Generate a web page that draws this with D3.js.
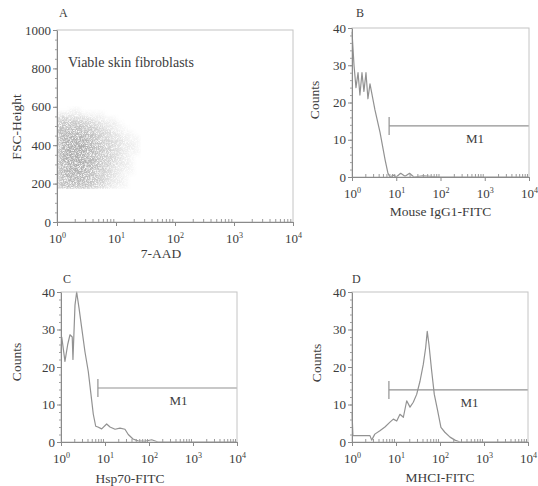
<!DOCTYPE html>
<html>
<head>
<meta charset="utf-8">
<script src="https://cdn.jsdelivr.net/npm/d3@7"></script>
<style>
  body { margin: 0; background: #fff; }
  svg text { font-family: "Liberation Serif", "DejaVu Serif", serif; fill: #3c3c3c; }
</style>
</head>
<body>
<script>
'use strict';

// tick values shared by the panels
const decadeTicks = [1, 10, 100, 1000, 10000];
const fscTicks = [0, 200, 400, 600, 800, 1000];
const countTicks = [0, 10, 20, 30, 40];

// panel A: 7-AAD vs FSC density
// column edges are 0.1 decade apart, rows are 25 FSC units tall (top row first)
const aadEdges = [1, 1.26, 1.58, 2.0, 2.51, 3.16, 3.98, 5.01, 6.31, 7.94, 10, 12.6, 15.8, 20.0, 25.1, 31.6];
const fscRows = [575, 550, 525, 500, 475, 450, 425, 400, 375, 350, 325, 300, 275, 250, 225, 200, 175];
const aadDensity = [
  [0, 0, 1, 1, 0, 0, 0, 0, 0, 0, 0, 0, 0, 0, 0],
  [2, 2, 2, 2, 1, 1, 1, 1, 0, 0, 0, 0, 0, 0, 0],
  [5, 5, 4, 4, 4, 3, 2, 2, 1, 1, 0, 0, 0, 0, 0],
  [6, 6, 6, 6, 5, 5, 4, 3, 2, 2, 1, 0, 0, 0, 0],
  [7, 7, 7, 7, 6, 6, 5, 4, 3, 2, 1, 1, 0, 0, 0],
  [7, 8, 8, 8, 7, 7, 6, 5, 4, 3, 2, 1, 1, 0, 0],
  [7, 8, 9, 9, 8, 7, 6, 5, 4, 3, 3, 2, 1, 1, 0],
  [7, 9, 9, 9, 9, 8, 7, 6, 5, 4, 3, 2, 2, 1, 0],
  [7, 9, 9, 9, 9, 8, 7, 6, 5, 4, 3, 2, 2, 1, 0],
  [7, 9, 9, 9, 9, 8, 7, 6, 5, 4, 3, 2, 1, 1, 0],
  [7, 9, 9, 9, 9, 8, 7, 6, 5, 4, 3, 2, 1, 0, 0],
  [7, 9, 9, 9, 9, 8, 7, 6, 5, 4, 3, 2, 1, 0, 0],
  [7, 9, 9, 9, 9, 8, 7, 6, 5, 3, 2, 2, 1, 0, 0],
  [7, 8, 9, 9, 8, 7, 6, 5, 4, 3, 2, 1, 1, 0, 0],
  [7, 8, 8, 8, 8, 7, 6, 5, 4, 3, 2, 1, 0, 0, 0],
  [6, 7, 8, 8, 7, 7, 6, 5, 3, 2, 2, 1, 0, 0, 0],
  [6, 7, 7, 7, 7, 6, 5, 4, 3, 2, 1, 1, 0, 0, 0]
];

// panel B: Mouse IgG1-FITC histogram
const iggFitc = [1, 1.11, 1.23, 1.37, 1.51, 1.68, 1.86, 2.07, 2.29, 2.55, 3.3, 4.3, 5.6, 6.5, 7.2, 8.9, 10, 12.6, 15.8, 20, 25, 40, 100, 10000];
const iggCounts = [39, 30, 24, 28, 22, 28, 23, 28, 21, 25, 18, 12, 4.6, 1, 0, 0.5, 0, 1, 0.2, 1, 0, 0.3, 0, 0];

// panel C: Hsp70-FITC histogram
const hspFitc = [1, 1.04, 1.23, 1.42, 1.6, 1.8, 1.87, 2.08, 2.27, 2.57, 2.95, 3.51, 4.17, 4.8, 5.42, 6.15, 6.9, 8.4, 10.9, 13, 16.9, 21.9, 28.4, 33.8, 43.3, 56, 81, 115, 160, 10000];
const hspCounts = [24, 28, 21.5, 26, 28.6, 28, 22, 36.5, 40, 35.7, 30.5, 24, 18.8, 12.7, 7.4, 4.2, 4, 3.5, 4.8, 4, 3.4, 3.7, 3.4, 2, 0.8, 0.3, 0.2, 0.6, 0, 0];

// panel D: MHCI-FITC histogram
const mhcFitc = [1, 1.05, 2.56, 2.8, 3.3, 4.3, 5.6, 7.3, 8.7, 10.4, 12.3, 14.7, 17.5, 20.8, 24.7, 29.5, 35.1, 41.7, 47.3, 51.3, 56.1, 64.6, 74.2, 88.6, 105, 129, 169, 219, 284, 10000];
const mhcCounts = [8, 1.7, 1.7, 0.5, 2.1, 3, 4, 5.3, 6.1, 5.6, 7.4, 6.6, 11, 9.3, 10.6, 12.7, 16.2, 20.7, 25.2, 29.5, 26, 19, 12.7, 8.3, 3.9, 2.6, 1.3, 0.5, 0, 0];

// M1 marker: start of the gate and its height in counts
const gateStart = 6.9;
const gateLevels = { B: 13.7, C: 14.4, D: 13.9 };

const svg = d3.select('body').append('svg')
  .attr('width', 538)
  .attr('height', 486);

// grain filter so the density cells look like a dot cloud
const defs = svg.append('defs');
const grain = defs.append('filter').attr('id', 'grain')
  .attr('x', 0).attr('y', 0).attr('width', 1).attr('height', 1);
grain.append('feGaussianBlur').attr('in', 'SourceGraphic').attr('stdDeviation', 1.8).attr('result', 'soft');
grain.append('feTurbulence').attr('type', 'fractalNoise').attr('baseFrequency', 1.6)
  .attr('numOctaves', 2).attr('seed', 11).attr('result', 'noise');
grain.append('feColorMatrix').attr('in', 'noise').attr('type', 'matrix')
  .attr('values', '0 0 0 0 0  0 0 0 0 0  0 0 0 0 0  2.6 0 0 0 -0.55').attr('result', 'mask');
grain.append('feComposite').attr('in', 'soft').attr('in2', 'mask').attr('operator', 'in');

// frame, axes and tick labels of one panel
function drawFrame(box, x, y, yTicks, yMinorStep, letter, xTitle, yTitle, titlePos) {
  const g = svg.append('g');

  // light top and right edges
  g.append('rect')
    .attr('x', box.left).attr('y', box.top)
    .attr('width', box.right - box.left).attr('height', box.bottom - box.top)
    .attr('fill', 'none').attr('stroke', '#c4c4c4');

  // minor log ticks along the bottom, pointing in
  const minor = [];
  for (let p = 1; p < 10000; p *= 10) {
    for (let k = 2; k < 10; k++) minor.push(p * k);
  }
  g.append('g')
    .attr('transform', `translate(0,${box.bottom})`)
    .call(d3.axisBottom(x).tickValues(minor).tickSize(-3).tickFormat(''))
    .call(a => a.select('.domain').remove())
    .call(a => a.selectAll('line').attr('stroke', '#9a9a9a'));

  // major bottom axis
  const xa = g.append('g')
    .attr('transform', `translate(0,${box.bottom})`)
    .call(d3.axisBottom(x).tickValues(decadeTicks).tickSizeInner(4).tickSizeOuter(0).tickPadding(5).tickFormat(''));
  xa.select('.domain').attr('stroke', '#8a8a8a');
  xa.selectAll('line').attr('stroke', '#8a8a8a');
  xa.selectAll('.tick text')
    .attr('font-size', 13)
    .attr('dy', '0.95em')
    .each(function(d) {
      const t = d3.select(this);
      t.text(null);
      t.append('tspan').text('10');
      t.append('tspan').attr('dy', -5).attr('font-size', 8).text(Math.round(Math.log10(d)));
    });

  // minor ticks on the left, pointing out
  const yMinor = d3.range(y.domain()[0], y.domain()[1] + 0.001, yMinorStep);
  g.append('g')
    .attr('transform', `translate(${box.left},0)`)
    .call(d3.axisLeft(y).tickValues(yMinor).tickSize(2).tickFormat(''))
    .call(a => a.select('.domain').remove())
    .call(a => a.selectAll('line').attr('stroke', '#a0a0a0'));

  // major left axis
  const ya = g.append('g')
    .attr('transform', `translate(${box.left},0)`)
    .call(d3.axisLeft(y).tickValues(yTicks).tickFormat(d3.format('d'))
      .tickSizeInner(4).tickSizeOuter(0).tickPadding(2));
  ya.select('.domain').attr('stroke', '#8a8a8a');
  ya.selectAll('line').attr('stroke', '#8a8a8a');
  ya.selectAll('text').attr('font-size', 13);

  // panel letter
  g.append('text')
    .attr('x', box.left + letter.dx).attr('y', box.top - letter.dy)
    .attr('font-size', 12)
    .text(letter.text);

  // axis titles
  g.append('text')
    .attr('x', (box.left + box.right) / 2 + titlePos.dx)
    .attr('y', box.bottom + titlePos.below)
    .attr('text-anchor', 'middle')
    .attr('font-size', 13.5)
    .text(xTitle);

  g.append('text')
    .attr('transform', `translate(${titlePos.yx},${titlePos.yy}) rotate(-90)`)
    .attr('text-anchor', 'middle')
    .attr('font-size', 13.5)
    .text(yTitle);
}

// histogram trace with its M1 marker
function drawHistogram(box, values, counts, gateLevel, labelShift) {
  const x = d3.scaleLog().domain([1, 10000]).range([box.left, box.right]);
  const y = d3.scaleLinear().domain([0, 40]).range([box.bottom, box.top]);
  const rows = values.map((v, i) => ({ v: v, c: counts[i] }));

  const line = d3.line()
    .x(d => x(d.v))
    .y(d => y(d.c));

  svg.append('path')
    .datum(rows)
    .attr('d', line)
    .attr('fill', 'none')
    .attr('stroke', '#929292')
    .attr('stroke-width', 1.2)
    .attr('stroke-linejoin', 'round');

  // M1 gate
  const gy = y(gateLevel);
  const gx = x(gateStart);
  svg.append('line')
    .attr('x1', gx).attr('x2', x(10000))
    .attr('y1', gy).attr('y2', gy)
    .attr('stroke', '#929292').attr('stroke-width', 1.2);
  svg.append('line')
    .attr('x1', gx).attr('x2', gx)
    .attr('y1', gy - 9).attr('y2', gy + 9)
    .attr('stroke', '#929292').attr('stroke-width', 1.2);

  const mid = Math.sqrt(gateStart * 10000);
  svg.append('text')
    .attr('x', x(mid) + labelShift)
    .attr('y', gy + 17)
    .attr('text-anchor', 'middle')
    .attr('font-size', 13)
    .text('M1');

  return { x: x, y: y };
}

// ---- panel A ----
const boxA = { left: 57, top: 30, right: 293, bottom: 222 };
const xA = d3.scaleLog().domain([1, 10000]).range([boxA.left, boxA.right]);
const yA = d3.scaleLinear().domain([0, 1000]).range([boxA.bottom, boxA.top]);

const cells = [];
fscRows.forEach((lo, r) => {
  aadDensity[r].forEach((dens, c) => {
    if (dens > 0) cells.push({ x0: aadEdges[c], x1: aadEdges[c + 1], y0: lo, y1: lo + 25, d: dens });
  });
});

svg.append('g')
  .attr('filter', 'url(#grain)')
  .selectAll('rect')
  .data(cells)
  .enter()
  .append('rect')
    .attr('x', d => xA(d.x0))
    .attr('y', d => yA(d.y1))
    .attr('width', d => xA(d.x1) - xA(d.x0) + 0.5)
    .attr('height', d => yA(d.y0) - yA(d.y1) + 0.5)
    .attr('fill', '#909090')
    .attr('fill-opacity', d => d.d / 9 * 0.68);

drawFrame(boxA, xA, yA, fscTicks, 50,
  { text: 'A', dx: 2, dy: 13 }, '7-AAD', 'FSC-Height',
  { dx: -14, below: 36, yx: 21, yy: 127 });

svg.append('text')
  .attr('x', 68).attr('y', 67)
  .attr('font-size', 14)
  .text('Viable skin fibroblasts');

// ---- panel B ----
const boxB = { left: 352, top: 28, right: 529, bottom: 177 };
const sB = drawHistogram(boxB, iggFitc, iggCounts, gateLevels.B, 16);
drawFrame(boxB, sB.x, sB.y, countTicks, 2,
  { text: 'B', dx: 4, dy: 11 }, 'Mouse IgG1-FITC', 'Counts',
  { dx: 0, below: 39, yx: 319, yy: 100 });

// ---- panel C ----
const boxC = { left: 61, top: 292, right: 237, bottom: 442 };
const sC = drawHistogram(boxC, hspFitc, hspCounts, gateLevels.C, 11);
drawFrame(boxC, sC.x, sC.y, countTicks, 2,
  { text: 'C', dx: 2, dy: 9 }, 'Hsp70-FITC', 'Counts',
  { dx: -19, below: 41, yx: 21, yy: 362 });

// ---- panel D ----
const boxD = { left: 352, top: 292, right: 528, bottom: 442 };
const sD = drawHistogram(boxD, mhcFitc, mhcCounts, gateLevels.D, 11);
drawFrame(boxD, sD.x, sD.y, countTicks, 2,
  { text: 'D', dx: 0, dy: 9 }, 'MHCI-FITC', 'Counts',
  { dx: 0, below: 40, yx: 321, yy: 363 });
</script>
</body>
</html>
